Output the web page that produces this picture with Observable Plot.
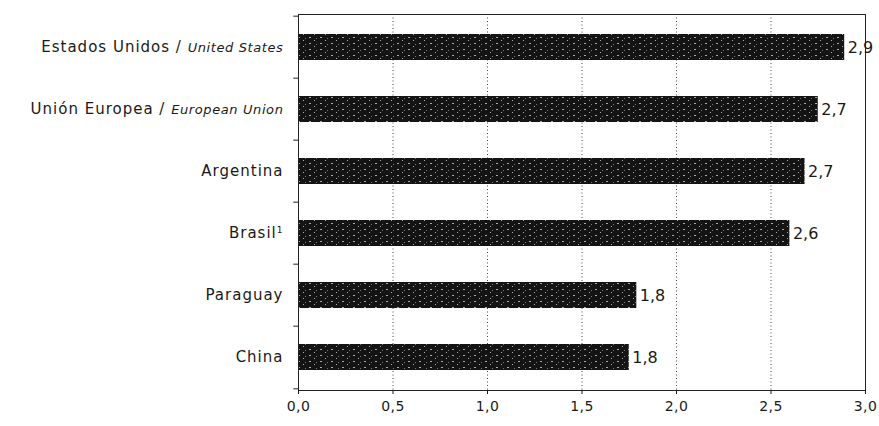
<!DOCTYPE html>
<html><head><meta charset="utf-8">
<script src="https://cdn.jsdelivr.net/npm/d3@7"></script>
<script src="https://cdn.jsdelivr.net/npm/@observablehq/plot@0.6"></script>
<style>body{margin:0;background:#fff}</style>
</head><body><div id="chart"></div>
<script>
const categories = ["Estados Unidos", "Unión Europea", "Argentina", "Brasil", "Paraguay", "China"];
const englishNames = ["United States", "European Union", "", "", "", ""];
const superscripts = ["", "", "", "1", "", ""];
const values = [2.89, 2.75, 2.68, 2.60, 1.79, 1.75];
const valueLabels = ["2,9", "2,7", "2,7", "2,6", "1,8", "1,8"];
const xTicks = [0, 0.5, 1.0, 1.5, 2.0, 2.5, 3.0];
const gridTicks = [0.5, 1.0, 1.5, 2.0, 2.5];

const data = categories.map((c, i) => ({cat: c, en: englishNames[i], sup: superscripts[i], value: values[i], label: valueLabels[i]}));
const W = 879, H = 426, mL = 298, mR = 14, mT = 14, mB = 36;
const step = (H - mT - mB) / categories.length;

const chart = Plot.plot({
  width: W, height: H,
  marginLeft: mL, marginRight: mR, marginTop: mT, marginBottom: mB,
  style: {fontFamily: "DejaVu Sans", fontSize: "15px", color: "#1a1a1a", background: "#fff"},
  x: {domain: [0, 3], label: null},
  y: {domain: categories, paddingInner: 0.58, paddingOuter: 0.29, label: null},
  marks: [
    Plot.gridX(gridTicks, {stroke: "#444", strokeOpacity: 1, strokeDasharray: "1,2.5"}),
    Plot.barX(data, {x: "value", y: "cat", fill: "url(#speckle)"}),
    Plot.text(data, {x: "value", y: "cat", text: "label", textAnchor: "start", dx: 3, fontSize: 16, fill: "#1a1a1a"}),
    Plot.frame({stroke: "#222"}),
    Plot.axisX(xTicks, {tickFormat: d => d.toFixed(1).replace(".", ","), fontSize: 14, tickSize: 4, tickPadding: 7, label: null}),
    Plot.axisY({tickSize: 0, tickPadding: 15, tickFormat: d => d, label: null}),
    Plot.ruleY(categories, {y: d => d, dy: -step / 2, x1: -0.025, x2: 0, stroke: "#222"}),
    Plot.ruleY(categories.slice(-1), {y: d => d, dy: step / 2, x1: -0.025, x2: 0, stroke: "#222"})
  ]
});

// pattern for speckled black bars
const svg = d3.select(chart.tagName === "svg" ? chart : chart.querySelector("svg"));
const defs = svg.insert("defs", ":first-child");
const pat = defs.append("pattern").attr("id", "speckle").attr("patternUnits", "userSpaceOnUse")
  .attr("width", 11).attr("height", 6);
pat.append("rect").attr("width", 11).attr("height", 6).attr("fill", "#141414");
pat.append("rect").attr("x", 1).attr("y", 1).attr("width", 2).attr("height", 1).attr("fill", "#aaa");
pat.append("rect").attr("x", 6).attr("y", 4).attr("width", 1).attr("height", 1).attr("fill", "#aaa");
pat.append("rect").attr("x", 8).attr("y", 2).attr("width", 1).attr("height", 1).attr("fill", "#777");

// mixed-style y labels
const byCat = new Map(data.map(d => [d.cat, d]));
svg.selectAll('g[aria-label="y-axis tick label"] text').each(function () {
  const t = d3.select(this);
  const name = t.text();
  const d = byCat.get(name);
  if (!d) return;
  t.text("").attr("letter-spacing", "1px");
  t.append("tspan").text(d.en ? name + " / " : name);
  if (d.en) t.append("tspan").attr("font-style", "italic").attr("font-size", 13).attr("letter-spacing", "0.6px").text(d.en);
  if (d.sup) t.append("tspan").attr("font-size", 9).attr("dy", "-0.6em").text(d.sup);
});
svg.selectAll('g[aria-label="x-axis tick label"] text').attr("letter-spacing", "0.5px");

document.getElementById("chart").appendChild(chart);
</script>
</body></html>
